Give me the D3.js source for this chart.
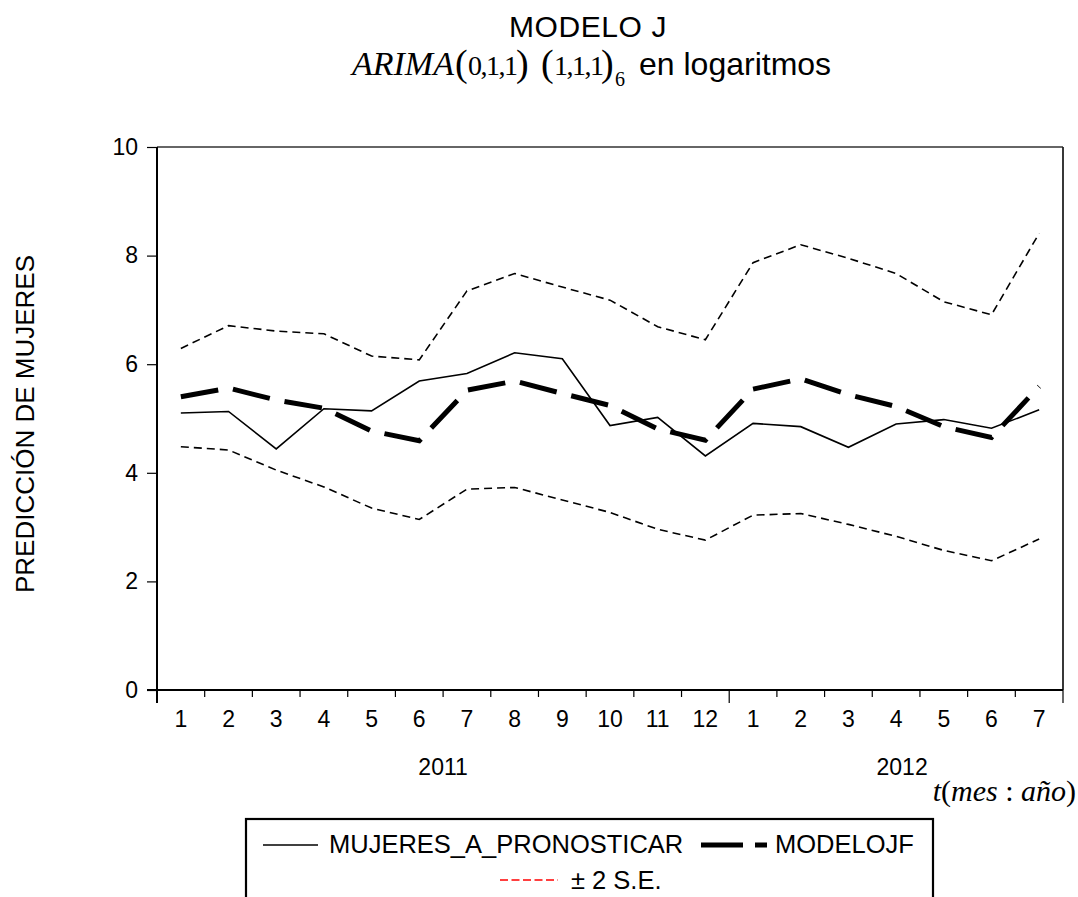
<!DOCTYPE html>
<html>
<head>
<meta charset="utf-8">
<script src="https://cdn.jsdelivr.net/npm/d3@7"></script>
<style>
  html, body { margin: 0; padding: 0; background: #fff; }
  svg { display: block; }
  text { font-family: "Liberation Sans", Arial, sans-serif; fill: #000; }
</style>
</head>
<body>
<svg id="chart" width="1078" height="897"></svg>
<script>
// ---- data ----
const years = ["2011", "2011", "2011", "2011", "2011", "2011", "2011", "2011", "2011", "2011", "2011", "2011",
               "2012", "2012", "2012", "2012", "2012", "2012", "2012"];
const months = ["1", "2", "3", "4", "5", "6", "7", "8", "9", "10", "11", "12", "1", "2", "3", "4", "5", "6", "7"];
const actual   = [5.10, 5.13, 4.44, 5.18, 5.14, 5.69, 5.83, 6.21, 6.10, 4.87, 5.02, 4.31, 4.91, 4.85, 4.47, 4.90, 4.98, 4.82, 5.16];
const forecast = [5.40, 5.56, 5.34, 5.19, 4.77, 4.59, 5.52, 5.69, 5.46, 5.24, 4.81, 4.60, 5.54, 5.73, 5.44, 5.22, 4.85, 4.65, 5.59];
const upper    = [6.29, 6.71, 6.61, 6.56, 6.15, 6.08, 7.35, 7.67, 7.42, 7.18, 6.69, 6.45, 7.87, 8.20, 7.95, 7.67, 7.15, 6.91, 8.41];
const lower    = [4.48, 4.42, 4.05, 3.74, 3.35, 3.14, 3.70, 3.73, 3.50, 3.27, 2.96, 2.76, 3.22, 3.25, 3.05, 2.83, 2.57, 2.38, 2.78];
const yTicks = [0, 2, 4, 6, 8, 10];
const yearLabels = ["2011", "2012"];
const legendLabels = ["MUJERES_A_PRONOSTICAR", "MODELOJF", "± 2 S.E."];
const titleText = "MODELO J";
const yAxisTitle = "PREDICCIÓN DE MUJERES";

// ---- layout ----
const L = 157, R = 1063, T = 147, B = 690;
const svg = d3.select("#chart");
const keys = months.map((m, i) => years[i] + "-" + m);

const x = d3.scaleBand().domain(keys).range([L, R]).padding(0);
const y = d3.scaleLinear().domain([0, 10]).range([B, T]);
const cx = i => x(keys[i]) + x.bandwidth() / 2;

// frame top/right
svg.append("line").attr("x1", L).attr("x2", R).attr("y1", T).attr("y2", T)
  .attr("stroke", "#333").attr("stroke-width", 1.5);
svg.append("line").attr("x1", R).attr("x2", R).attr("y1", T).attr("y2", B)
  .attr("stroke", "#222").attr("stroke-width", 1.8);

// y axis
const yAxis = svg.append("g").attr("transform", `translate(${L},0)`)
  .call(d3.axisLeft(y).tickValues(yTicks).tickSize(10).tickSizeOuter(0).tickPadding(9).tickFormat(d3.format("d")));
yAxis.select(".domain").remove();
yAxis.selectAll(".tick line").attr("stroke", "#000").attr("stroke-width", 1.2);
yAxis.selectAll(".tick text").style("font-size", "23px").style("font-family", "Liberation Sans, Arial, sans-serif");
svg.append("line").attr("x1", L).attr("x2", L).attr("y1", T).attr("y2", B + 13)
  .attr("stroke", "#000").attr("stroke-width", 2);

// x axis line
svg.append("line").attr("x1", L - 10).attr("x2", R).attr("y1", B).attr("y2", B)
  .attr("stroke", "#000").attr("stroke-width", 2);

// x boundary ticks
const boundaries = keys.map((k, i) => ({ pos: x(k), major: i === 0 || months[i] === "1" && i > 0 }));
boundaries.push({ pos: x.range()[1], major: true });
svg.append("g").selectAll("line").data(boundaries).join("line")
  .attr("x1", d => d.pos).attr("x2", d => d.pos)
  .attr("y1", B).attr("y2", d => d.major ? B + 13 : B + 7)
  .attr("stroke", "#000").attr("stroke-width", 1.2);

// month labels
const xAxis = svg.append("g").attr("transform", `translate(0,${B})`)
  .call(d3.axisBottom(x).tickSize(0).tickPadding(21).tickFormat((d, i) => months[i]));
xAxis.select(".domain").remove();
xAxis.selectAll(".tick text").style("font-size", "23px").style("font-family", "Liberation Sans, Arial, sans-serif");

// year labels
const yearPos = yearLabels.map(yr => {
  const idx = keys.map((k, i) => i).filter(i => years[i] === yr);
  return { yr, mid: (cx(idx[0]) + cx(idx[idx.length - 1])) / 2 + (yr === "2012" ? 6 : 0) };
});
svg.append("g").selectAll("text").data(yearPos).join("text")
  .attr("x", d => d.mid).attr("y", 775).attr("text-anchor", "middle")
  .style("font-size", "23px").text(d => d.yr);

// series lines
const line = d3.line().x((d, i) => cx(i)).y(d => y(d));
svg.append("path").datum(upper).attr("d", line).attr("fill", "none")
  .attr("stroke", "#000").attr("stroke-width", 1.6).attr("stroke-dasharray", "8,5");
svg.append("path").datum(lower).attr("d", line).attr("fill", "none")
  .attr("stroke", "#000").attr("stroke-width", 1.6).attr("stroke-dasharray", "8,5");
svg.append("path").datum(actual).attr("d", line).attr("fill", "none")
  .attr("stroke", "#000").attr("stroke-width", 1.6);
svg.append("path").datum(forecast).attr("d", line).attr("fill", "none")
  .attr("stroke", "#000").attr("stroke-width", 5).attr("stroke-dasharray", "38,15");

// titles
svg.append("text").attr("x", 588).attr("y", 37).attr("text-anchor", "middle")
  .style("font-size", "30px").style("letter-spacing", "0.6px").text(titleText);

const serif = "Liberation Serif, Times New Roman, serif";
const sub = svg.append("g");
sub.append("text").attr("x", 352).attr("y", 75).style("font-family", serif).style("font-style", "italic")
  .style("font-size", "34px").text("ARIMA");
const parens = [
  { t: "(", x: 455, fs: 38, y: 76 }, { t: "0,1,1", x: 468, fs: 28, y: 75 }, { t: ")", x: 516, fs: 38, y: 76 },
  { t: "(", x: 541, fs: 38, y: 76 }, { t: "1,1,1", x: 554, fs: 28, y: 75 }, { t: ")", x: 601, fs: 38, y: 76 },
  { t: "6", x: 615, fs: 20, y: 86 }
];
sub.selectAll("text.p").data(parens).join("text").attr("class", "p")
  .attr("x", d => d.x).attr("y", d => d.y).style("font-family", serif)
  .style("font-size", d => d.fs + "px").style("letter-spacing", d => d.t.length > 1 ? "-1.5px" : "0px")
  .text(d => d.t);
sub.append("text").attr("x", 639).attr("y", 75).style("font-size", "32px").text("en logaritmos");

// y axis title
svg.append("text").attr("transform", "translate(34,424) rotate(-90)").attr("text-anchor", "middle")
  .style("font-size", "26px").text(yAxisTitle);

// x axis title t(mes : año)
const xt = svg.append("text").attr("x", 1076).attr("y", 801).attr("text-anchor", "end")
  .style("font-family", serif).style("font-size", "30px");
xt.append("tspan").style("font-style", "italic").text("t");
xt.append("tspan").text("(");
xt.append("tspan").style("font-style", "italic").text("mes");
xt.append("tspan").text(" : ");
xt.append("tspan").style("font-style", "italic").text("año");
xt.append("tspan").text(")");

// legend
const lg = svg.append("g");
lg.append("rect").attr("x", 246).attr("y", 819).attr("width", 687).attr("height", 120)
  .attr("fill", "#fff").attr("stroke", "#000").attr("stroke-width", 2.2);
lg.append("line").attr("x1", 263).attr("x2", 318).attr("y1", 845).attr("y2", 845)
  .attr("stroke", "#000").attr("stroke-width", 1.6);
lg.append("text").attr("x", 329).attr("y", 853).style("font-size", "25.5px").text(legendLabels[0]);
lg.append("line").attr("x1", 701).attr("x2", 767).attr("y1", 845).attr("y2", 845)
  .attr("stroke", "#000").attr("stroke-width", 5).attr("stroke-dasharray", "42,12");
lg.append("text").attr("x", 775).attr("y", 853).style("font-size", "25.5px").text(legendLabels[1]);
lg.append("line").attr("x1", 500).attr("x2", 558).attr("y1", 880).attr("y2", 880)
  .attr("stroke", "#ff0000").attr("stroke-width", 1.6).attr("stroke-dasharray", "8,3.5");
lg.append("text").attr("x", 571).attr("y", 889).style("font-size", "25.5px").text(legendLabels[2]);
</script>
</body>
</html>
